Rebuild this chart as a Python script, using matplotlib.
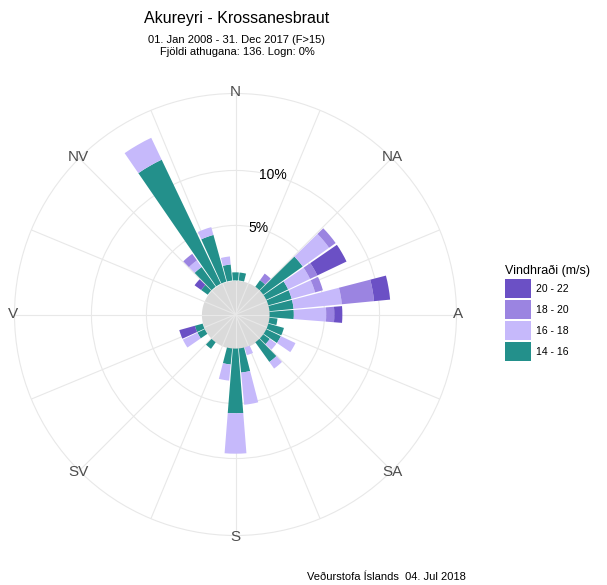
import numpy as np
import matplotlib.pyplot as plt

plt.rcParams['font.family'] = ['Liberation Sans', 'DejaVu Sans']

# wind direction bins (degrees, 10 degree sectors)
directions = np.arange(0, 360, 10)
n_obs = 136

# number of observations per direction and speed class (read from the chart)
#                  0  10 20 30 40 50 60 70 80 90 100 110 120 130 140 150 160 170 180 190 200 210 220 230 240 250 260 270 280 290 300 310 320 330 340 350
count_14_16 = [1, 1, 0, 0, 1, 6, 3, 3, 3, 3, 1, 2, 2, 1, 3, 0, 0, 3, 8, 2, 0, 0, 1, 0, 1, 1, 0, 0, 0, 0, 0, 1, 3, 17, 6, 2]
count_16_18 = [0, 0, 0, 0, 0, 4, 3, 3, 6, 4, 0, 0, 2, 1, 1, 0, 1, 4, 5, 2, 0, 0, 0, 0, 2, 0, 0, 0, 0, 0, 0, 0, 1, 3, 1, 1]
count_18_20 = [0, 0, 0, 0, 1, 1, 1, 1, 4, 1, 0, 0, 0, 0, 0, 0, 0, 0, 0, 0, 0, 0, 0, 0, 0, 0, 0, 0, 0, 0, 0, 0, 1, 0, 0, 0]
count_20_22 = [0, 0, 0, 0, 0, 0, 4, 0, 2, 1, 0, 0, 0, 0, 0, 0, 0, 0, 0, 0, 0, 0, 0, 0, 0, 2, 0, 0, 0, 0, 0, 1, 0, 0, 0, 0]

speed_labels = ['14 - 16', '16 - 18', '18 - 20', '20 - 22']
speed_colors = ['#23908b', '#c6b9fb', '#9b84e1', '#6b50c5']

compass = ['N', 'NA', 'A', 'SA', 'S', 'SV', 'V', 'NV']

title = 'Akureyri - Krossanesbraut'
subtitle = '01. Jan 2008 - 31. Dec 2017 (F>15)\nFjöldi athugana: 136. Logn: 0%'
footer = 'Veðurstofa Íslands  04. Jul 2018'

W, H = 607, 585
fig = plt.figure(figsize=(W / 100, H / 100), dpi=100)

cx, cy, R = 235.5, 314.5, 221
ax = fig.add_axes([(cx - R) / W, (H - cy - R) / H, 2 * R / W, 2 * R / H],
                  projection='polar')
ax.set_theta_zero_location('N')
ax.set_theta_direction(-1)

r_in = -3.1
r_max = 17
ax.set_ylim(r_in, r_max)

grid_col = '#e8e8e8'
ax.set_xticks(np.deg2rad(np.arange(0, 360, 22.5)))
ax.set_xticklabels([])
ax.set_yticks([5, 10])
ax.set_yticklabels([])
ax.grid(color=grid_col, linewidth=0.8)
ax.spines['polar'].set_color(grid_col)
ax.spines['polar'].set_linewidth(0.8)
ax.tick_params(length=0)

# calm circle in the middle
th = np.linspace(0, 2 * np.pi, 200)
ax.fill_between(th, r_in, 0, color='#d6d6d6', alpha=0.9, zorder=0.3, linewidth=0)

theta = np.deg2rad(directions)
width = np.deg2rad(9)
counts = [count_14_16, count_16_18, count_18_20, count_20_22]
bottom = np.zeros(len(directions))
handles = []
for cnt, col, lab in zip(counts, speed_colors, speed_labels):
    pct = np.array(cnt) / n_obs * 100
    b = ax.bar(theta, pct, width=width, bottom=bottom, color=col,
               linewidth=0, label=lab, zorder=2)
    handles.append(b)
    bottom += pct

for i, name in enumerate(compass):
    ax.text(np.deg2rad(i * 45), 17.1, name, ha='center', va='center',
            fontsize=11, color='#4d4d4d', zorder=3)

for v in [5, 10]:
    ax.text(np.deg2rad(15), v, f'{v}%', ha='center', va='center',
            fontsize=10, color='black', zorder=3)

fig.text(237 / W, 1 - 18 / H, title, ha='center', va='center', fontsize=11.5)
fig.text(237 / W, 1 - 46 / H, subtitle, ha='center', va='center',
         fontsize=8, linespacing=1.25)
fig.text(307 / W, 1 - 577 / H, footer, ha='left', va='center', fontsize=8)

leg = fig.legend(handles[::-1], speed_labels[::-1], title='Vindhraði (m/s)',
                 loc='upper left', bbox_to_anchor=(505 / W, 1 - 265 / H),
                 frameon=False, fontsize=7.5, title_fontsize=9,
                 handlelength=2.5, handleheight=2.5, labelspacing=0.15,
                 handletextpad=0.5, borderpad=0, borderaxespad=0)
leg._legend_box.align = 'left'

fig.savefig('out.png', dpi=100)
